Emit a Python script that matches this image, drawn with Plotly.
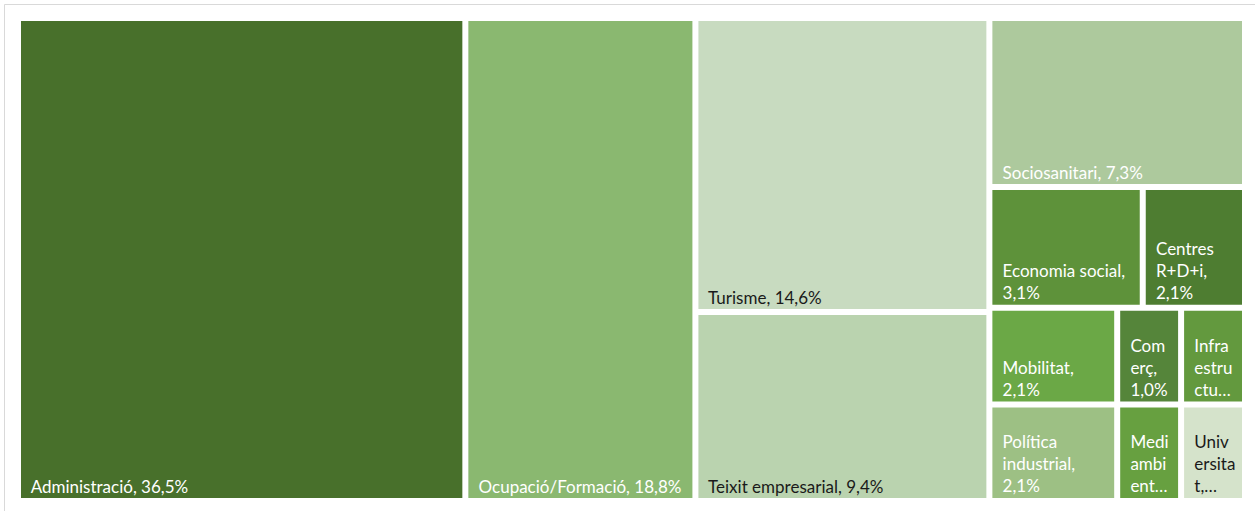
import plotly.graph_objects as go

# ---- data ----
categories = ["Administració", "Ocupació/Formació", "Turisme", "Teixit empresarial",
              "Sociosanitari", "Economia social", "Centres R+D+i", "Mobilitat",
              "Política industrial", "Comerç", "Medi ambient", "Infraestructures", "Universitat"]
counts = [35, 18, 14, 9, 7, 3, 2, 2, 2, 1, 1, 1, 1]
pct_labels = ["36,5%", "18,8%", "14,6%", "9,4%", "7,3%", "3,1%", "2,1%", "2,1%",
              "2,1%", "1,0%", "1,0%", "1,0%", "1,0%"]
# text as displayed (wrapped / truncated like the original)
display_lines = [["Administració, 36,5%"], ["Ocupació/Formació, 18,8%"], ["Turisme, 14,6%"],
                 ["Teixit empresarial, 9,4%"], ["Sociosanitari, 7,3%"], ["Economia social,", "3,1%"],
                 ["Centres", "R+D+i,", "2,1%"], ["Mobilitat,", "2,1%"], ["Política", "industrial,", "2,1%"],
                 ["Com", "erç,", "1,0%"], ["Medi", "ambi", "ent…"], ["Infra", "estru", "ctu…"],
                 ["Univ", "ersita", "t,…"]]
# layout grouping (hidden intermediate nodes, as in the original arrangement)
parent_of = ["", "", "g1", "g1", "g2", "g3", "g3", "g5", "g5", "g6", "g6", "g7", "g7"]
groups = ["g1", "g2", "g3", "g4", "g5", "g6", "g7"]
group_parent = ["", "", "g2", "g2", "g4", "g4", "g4"]

colors = ["#48702B", "#8AB870", "#C8DBC0", "#BAD3AF", "#ADC99D", "#5E923A", "#4E7D31",
          "#6BA846", "#9DC084", "#55853A", "#67A040", "#63993E", "#D5E3CB"]
text_colors = ["white", "white", "#1a1a1a", "#1a1a1a", "white", "white", "white",
               "white", "white", "white", "white", "white", "#1a1a1a"]

# ---- build node arrays in display order ----
order = [("c", 0), ("c", 1), ("g", 0), ("c", 2), ("c", 3), ("g", 1), ("c", 4),
         ("g", 2), ("c", 5), ("c", 6), ("g", 3), ("g", 4), ("c", 7), ("c", 8),
         ("g", 5), ("c", 9), ("c", 10), ("g", 6), ("c", 11), ("c", 12)]
ids, labels, parents, values, mcolors, texts, tcolors = [], [], [], [], [], [], []
for kind, i in order:
    if kind == "c":
        ids.append(categories[i]); labels.append(categories[i]); parents.append(parent_of[i])
        values.append(counts[i]); mcolors.append(colors[i])
        texts.append("<br>".join("\u00a0\u00a0" + ln for ln in display_lines[i]))
        tcolors.append(text_colors[i])
    else:
        ids.append(groups[i]); labels.append(""); parents.append(group_parent[i])
        values.append(0); mcolors.append("white"); texts.append(""); tcolors.append("white")

fig = go.Figure(go.Treemap(
    ids=ids, labels=labels, parents=parents, values=values,
    branchvalues="remainder", sort=False,
    text=texts, texttemplate="%{text}", textposition="bottom left",
    textfont=dict(family="Lato", size=17, color=tcolors),
    marker=dict(colors=mcolors, line=dict(color="white", width=3),
                pad=dict(t=0, l=0, r=0, b=0)),
    tiling=dict(packing="slice-dice"),
    pathbar=dict(visible=False),
    hoverinfo="label+value",
    domain=dict(x=[19.5 / 1255, 1243.5 / 1255], y=[1 - 499.5 / 511, 1 - 19.5 / 511]),
))
fig.update_layout(
    width=1255, height=511,
    margin=dict(l=0, r=0, t=0, b=0),
    paper_bgcolor="white",
    shapes=[dict(type="rect", xref="paper", yref="paper",
                 x0=4.5 / 1255, x1=1262 / 1255, y0=-0.05, y1=1 - 4.5 / 511,
                 line=dict(color="#d9d9d9", width=1))],
)
fig.write_html("out.html", config={"displayModeBar": False},
               post_script="document.body.style.margin='0';document.body.style.overflow='hidden';")
